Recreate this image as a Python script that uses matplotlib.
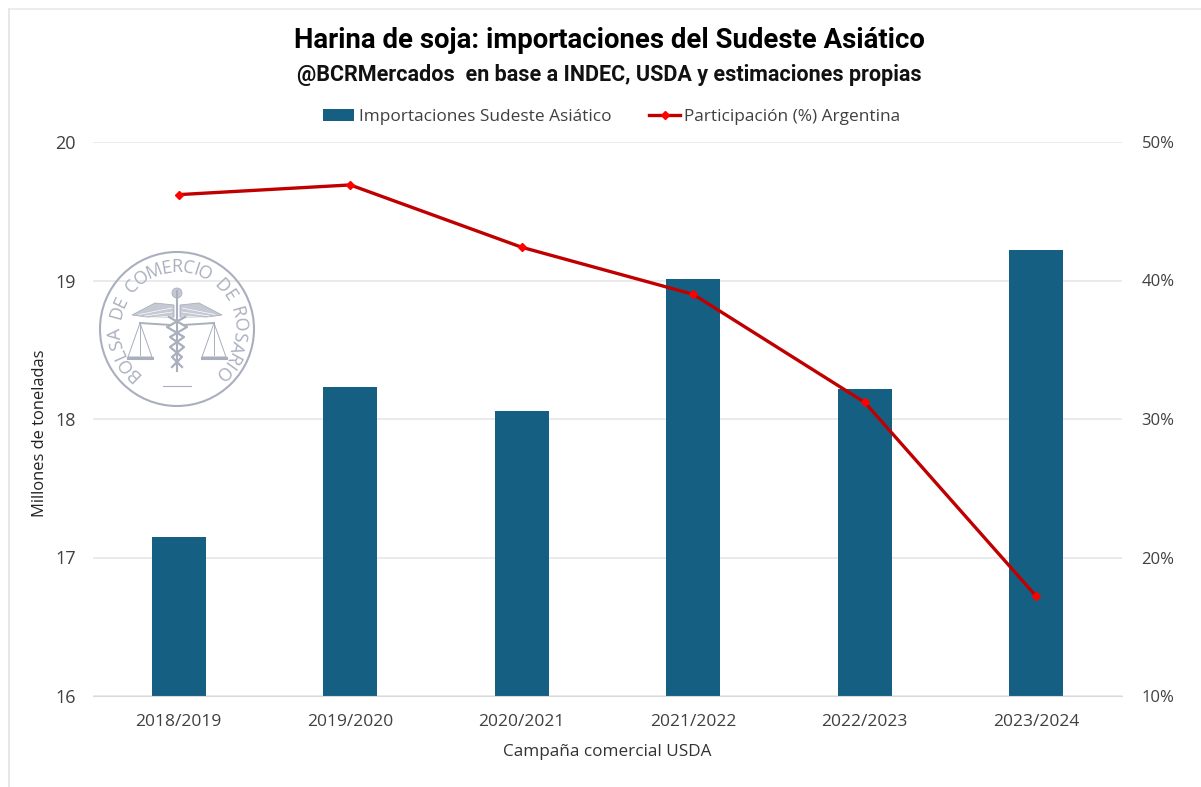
import matplotlib
matplotlib.use("Agg")
import matplotlib.pyplot as plt
from matplotlib.patches import Circle, Polygon
from matplotlib.textpath import TextPath
from matplotlib.font_manager import FontProperties
import numpy as np

categories = ["2018/2019", "2019/2020", "2020/2021", "2021/2022", "2022/2023", "2023/2024"]
imports_mt = [17.15, 18.23, 18.06, 19.01, 18.22, 19.22]
share_pct = [46.2, 46.9, 42.4, 39.0, 31.2, 17.2]
left_ticks = [16, 17, 18, 19, 20]
right_ticks = [10, 20, 30, 40, 50]

W, H = 1201, 787
fig = plt.figure(figsize=(W/100, H/100), dpi=100, facecolor="white")
plt.rcParams['font.family'] = ['Open Sans', 'DejaVu Sans']

ax = fig.add_axes([93/W, 1-696/H, (1122-93)/W, (696-142)/H])
x = np.arange(len(categories))
bars = ax.bar(x, imports_mt, width=0.315, color="#156082", zorder=2, label="Importaciones Sudeste Asiático")
ax.set_xlim(-0.5, 5.5)
ax.set_ylim(16, 20)
ax.set_yticks(left_ticks)
ax.set_xticks(x)
ax.set_xticklabels(categories)
ax.tick_params(length=0, labelsize=12.5, colors="#404040", pad=13)
ax.tick_params(axis='y', labelsize=13, pad=12.5)
ax.grid(axis='y', color="#E6E6E6", lw=1.2, zorder=0)
ax.set_axisbelow(True)
for s in ["top", "left", "right"]:
    ax.spines[s].set_visible(False)
ax.spines["bottom"].set_color("#D9D9D9")
ax.set_ylabel("Millones de toneladas", fontsize=11.9, color="#222222", labelpad=5, y=0.475)
ax.set_xlabel("Campaña comercial USDA", fontsize=12.3, color="#333333", labelpad=10)

ax2 = ax.twinx()
line, = ax2.plot(x, share_pct, color="#C00000", lw=2.4, marker="D", ms=4.5, mfc="#FF0000", mec="#FF0000", zorder=5,
                 label="Participación (%) Argentina")
ax2.set_ylim(10, 50)
ax2.set_yticks(right_ticks)
ax2.set_yticklabels([f"{v}%" for v in right_ticks])
ax2.tick_params(length=0, labelsize=12, colors="#404040", pad=14)
for s in ax2.spines.values():
    s.set_visible(False)

fig.text(609/W, 1-41/H, "Harina de soja: importaciones del Sudeste Asiático", ha="center", va="center",
         fontsize=19.8, fontweight="bold", family=["Roboto", "DejaVu Sans"], color="black")
fig.text(609/W, 1-75/H, "@BCRMercados  en base a INDEC, USDA y estimaciones propias", ha="center", va="center",
         fontsize=15.5, fontweight="bold", family=["Roboto", "DejaVu Sans"], color="#111111")

fig.legend(handles=[bars, line], loc="center", bbox_to_anchor=(612/W, 1-117/H), ncol=2, frameon=False,
           fontsize=12.4, labelcolor="#404040", handlelength=1.8, columnspacing=2.2, handletextpad=0.25)

# seal
cx, cy = 177, 329
sax = fig.add_axes([(cx-85)/W, 1-(cy+85)/H, 170/W, 170/H], zorder=6)
sax.set_xlim(-85, 85); sax.set_ylim(-85, 85); sax.axis("off"); sax.patch.set_alpha(0)
seal = "#A9AFBD"
sax.add_patch(Circle((0, 0), 77, fill=False, ec=seal, lw=1.5))
text = "BOLSA DE COMERCIO DE ROSARIO"
fp = FontProperties(family="Open Sans")
widths = []
for ch in text:
    if ch == " ":
        widths.append(0.5)
    else:
        ext = TextPath((0, 0), ch, size=1, prop=fp).get_extents()
        widths.append(ext.x1 + 0.08)
widths = np.array(widths)
centers = np.cumsum(widths) - widths / 2
angs = 226 - (centers - centers[0]) / (centers[-1] - centers[0]) * 270
for ch, a in zip(text, angs):
    r = 62
    sax.text(r*np.cos(np.radians(a)), r*np.sin(np.radians(a)), ch, rotation=a-90, rotation_mode="anchor",
             ha="center", va="center", fontsize=13, color=seal, fontproperties=None)
# staff
sax.plot([0, 0], [-42, 38], color=seal, lw=1.5)
sax.add_patch(Circle((0, 36), 5, fc="#C5C9D3", ec=seal, lw=0.6))
# wings
for sgn in (-1, 1):
    sax.add_patch(Polygon([(sgn*3, 24), (sgn*22, 26), (sgn*45, 14), (sgn*30, 12), (sgn*3, 12)],
                          closed=True, fc="#C5C9D3", ec=seal, lw=0.6))
    for k in range(3):
        sax.plot([sgn*5, sgn*(38-6*k)], [21-4*k, 14.5-1.5*k], color="white", lw=0.5)
    # scale beam, pans
    sax.plot([sgn*6, sgn*(34+3)], [4, 6], color=seal, lw=1.4)
    cxp = sgn*37
    sax.plot([cxp, cxp-12, cxp+12, cxp], [6, -28, -28, 6], color=seal, lw=0.7)
    sax.plot([cxp, cxp], [6, -26], color=seal, lw=0.7)
    sax.plot([cxp-12, cxp+12], [-29, -29], color=seal, lw=2.2)
# snake
yy = [-38, -28, -18, -8, 2, 12]
sax.plot([-5, 5, -7, 7, -10, 8], yy, color=seal, lw=1.6)
sax.plot([5, -5, 7, -7, 10, -8], yy, color=seal, lw=1.6)
sax.plot([-14, 14], [-57, -57], color=seal, lw=0.8)

# outer frame lines (left and top)
fig.add_artist(plt.Line2D([9/W, 9/W], [0, 1-9/H], color="#E3E3E3", lw=1.2))
fig.add_artist(plt.Line2D([9/W, 1], [1-9/H, 1-9/H], color="#E9E9E9", lw=1.2))

fig.savefig("out.png", dpi=100)
